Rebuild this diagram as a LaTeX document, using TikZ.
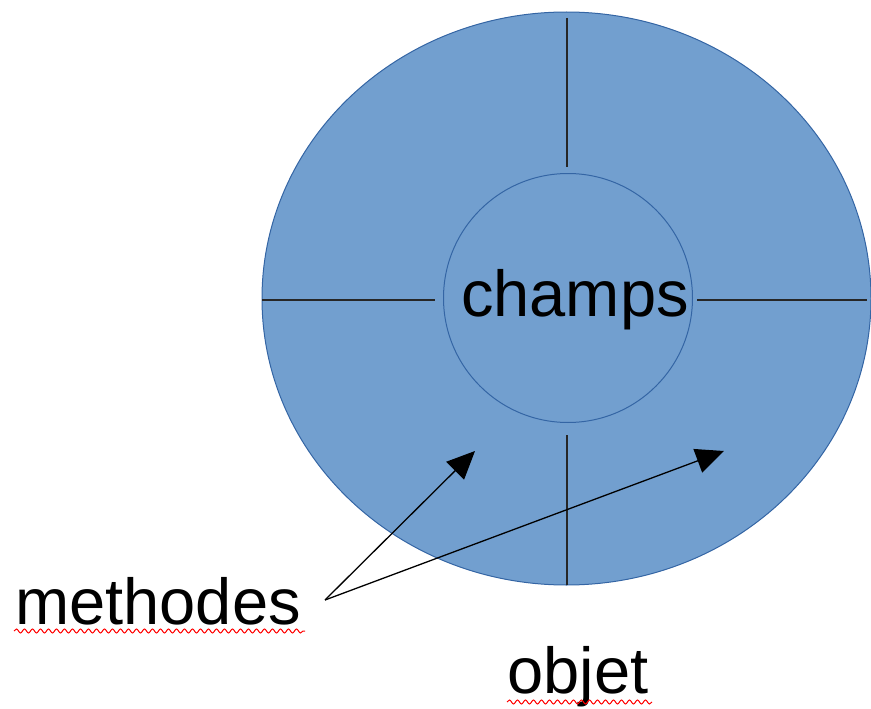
\documentclass[tikz,border=0pt]{standalone}
\usepackage{fontspec}
\setmainfont{Liberation Sans}
\usetikzlibrary{shapes.geometric,arrows.meta,decorations.pathmorphing}
\definecolor{fillblue}{HTML}{729FCF}
\definecolor{edgeblue}{HTML}{3465A4}
\definecolor{spellred}{HTML}{FF0000}
\begin{document}
\begin{tikzpicture}[x=1pt,y=-1pt,
  bigtext/.style={font=\fontsize{65}{65}\selectfont,inner sep=0pt,anchor=base},
  divider/.style={draw=black!85,line width=2pt},
  pointer/.style={draw=black,line width=1.3pt,-{Triangle[length=28pt,width=25pt]}},
  squiggle/.style={draw=spellred,line width=1pt,decorate,decoration={snake,segment length=8pt,amplitude=2pt}}]
\useasboundingbox (0,0) rectangle (871,709);
\node[ellipse,draw=edgeblue,fill=fillblue,line width=1pt,minimum width=609pt,minimum height=573pt,inner sep=0pt] (outer) at (566.5,298.5) {};
\node[circle,draw=edgeblue,line width=1pt,minimum size=249pt,inner sep=0pt] (inner) at (568,298) {};
\node[bigtext] (champs) at (575,316) {champs};
\coordinate (t1) at (567,18);
\coordinate (t2) at (567,167);
\coordinate (l1) at (262,300);
\coordinate (l2) at (435,300);
\coordinate (r1) at (697,300);
\coordinate (r2) at (867,300);
\coordinate (b1) at (567,435);
\coordinate (b2) at (567,585);
\draw[divider] (t1) -- (t2);
\draw[divider] (l1) -- (l2);
\draw[divider] (r1) -- (r2);
\draw[divider] (b1) -- (b2);
\node[bigtext] (methodes) at (158,624) {methodes};
\node[bigtext] (objet) at (578,693) {objet};
\coordinate (src) at (325,600);
\coordinate (tipA) at (475,451);
\coordinate (tipB) at (724,451);
\draw[pointer] (src) -- (tipA);
\draw[pointer] (src) -- (tipB);
\coordinate (ma) at (14,631);
\coordinate (mb) at (305,631);
\coordinate (oa) at (507,702);
\coordinate (ob) at (652,702);
\draw[squiggle] (ma) -- (mb);
\draw[squiggle] (oa) -- (ob);
\end{tikzpicture}
\end{document}
